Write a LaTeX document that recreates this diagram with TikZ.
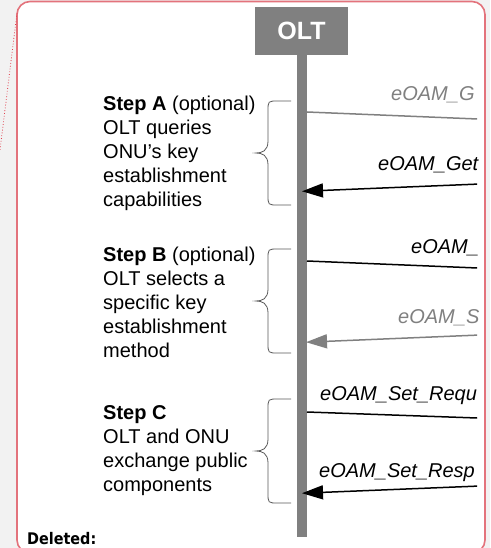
\documentclass[tikz,border=0pt]{standalone}
\usepackage{fontspec}
\setmainfont{Liberation Sans}
\newfontfamily\delfont{DejaVu Sans Condensed}
\usetikzlibrary{arrows.meta}
\definecolor{bggray}{HTML}{F2F2F2}
\definecolor{boxred}{HTML}{E3737C}
\definecolor{dotred}{HTML}{E0404E}
\definecolor{lifegray}{HTML}{808080}
\definecolor{msggray}{HTML}{808080}
\definecolor{bracegray}{HTML}{5A5A5A}
\tikzset{
  lifeline/.style={fill=lifegray, draw=none},
  steptext/.style={anchor=base west, inner sep=0pt, align=left, font=\fontsize{20}{24}\selectfont},
  msglabel/.style={anchor=base west, inner sep=0pt, font=\fontsize{20}{24}\selectfont\itshape},
  msgblack/.style={line width=1.5pt, draw=black},
  msggrey/.style={line width=1.5pt, draw=msggray},
  tip/.style={-{Triangle[length=21pt,width=14pt]}},
  bracestyle/.style={draw=bracegray, line width=0.8pt},
}
\newcommand\stepbrace[2]{%
  \pgfmathsetmacro\bmid{(#1+#2)/2}%
  \draw[bracestyle] (291,-#1) -- (278,-#1) .. controls (268,-#1) .. (268,-#1-10)
    -- (268,-\bmid+12) .. controls (268,-\bmid+2) and (262,-\bmid) .. (256,-\bmid)
    .. controls (262,-\bmid) and (268,-\bmid-2) .. (268,-\bmid-12)
    -- (268,-#2+10) .. controls (268,-#2) .. (278,-#2) -- (291,-#2);}
\begin{document}
\begin{tikzpicture}[x=1pt,y=1pt]
\useasboundingbox (0,0) rectangle (490,-548);
\fill[bggray] (0,0) rectangle (490,-548);
% comment balloon
\draw[boxred, line width=1.6pt, fill=white, rounded corners=13pt] (17,-1.5) rectangle (485,-553);
\coordinate (dA) at (17,-13);
\coordinate (dB) at (0,-150);
\draw[dotred, line width=0.8pt, dotted] (dA) -- (dB);
% OLT lifeline
\fill[lifeline] (297,-55) rectangle (307,-537);
\node[fill=lifegray, minimum width=93pt, minimum height=48pt, inner sep=0pt,
      text=white, font=\fontsize{25}{30}\selectfont\bfseries] (olt) at (301.5,-31) {OLT};
% endpoints
\coordinate (l1) at (307,-112); \coordinate (r1) at (480,-119.1);
\coordinate (r2) at (480,-184); \coordinate (l2) at (302,-191.3);
\coordinate (l3) at (307,-261); \coordinate (r3) at (480,-268.1);
\coordinate (r4) at (480,-335); \coordinate (l4) at (306,-342.2);
\coordinate (l5) at (307,-412); \coordinate (r5) at (480,-418.1);
\coordinate (r6) at (480,-486); \coordinate (l6) at (302,-493.2);
\begin{scope}
\clip (0,0) rectangle (477,-548);
\draw[msggrey] (l1) -- (r1);
\draw[msgblack, tip] (r2) -- (l2);
\draw[msgblack] (l3) -- (r3);
\draw[msggrey, tip, msggray] (r4) -- (l4);
\draw[msgblack] (l5) -- (r5);
\draw[msgblack, tip] (r6) -- (l6);
\end{scope}
\node[msglabel, text=msggray] (m1) at (391,-101) {eOAM\_G};
\node[msglabel] (m2) at (378,-171) {eOAM\_Get};
\node[msglabel] (m3) at (411,-253) {eOAM\_};
\node[msglabel, text=msggray] (m4) at (398,-323) {eOAM\_S};
\node[msglabel] (m5) at (320,-400) {eOAM\_Set\_Requ};
\node[msglabel] (m6) at (319,-477) {eOAM\_Set\_Resp};
% steps (anchored at the baseline of the last line)
\node[steptext] (sa) at (103,-206) {\textbf{Step A} (optional)\\OLT queries\\ONU’s key\\establishment\\capabilities};
\node[steptext] (sb) at (103,-357) {\textbf{Step B} (optional)\\OLT selects a\\specific key\\establishment\\method};
\node[steptext] (sc) at (103,-491) {\textbf{Step C}\\OLT and ONU\\exchange public\\components};
\stepbrace{101}{205}
\stepbrace{249}{353}
\stepbrace{399}{503}
\node[anchor=base west, inner sep=0pt, font=\delfont\fontsize{16}{18}\selectfont\bfseries] (del) at (27,-544) {Deleted:};
\end{tikzpicture}
\end{document}
